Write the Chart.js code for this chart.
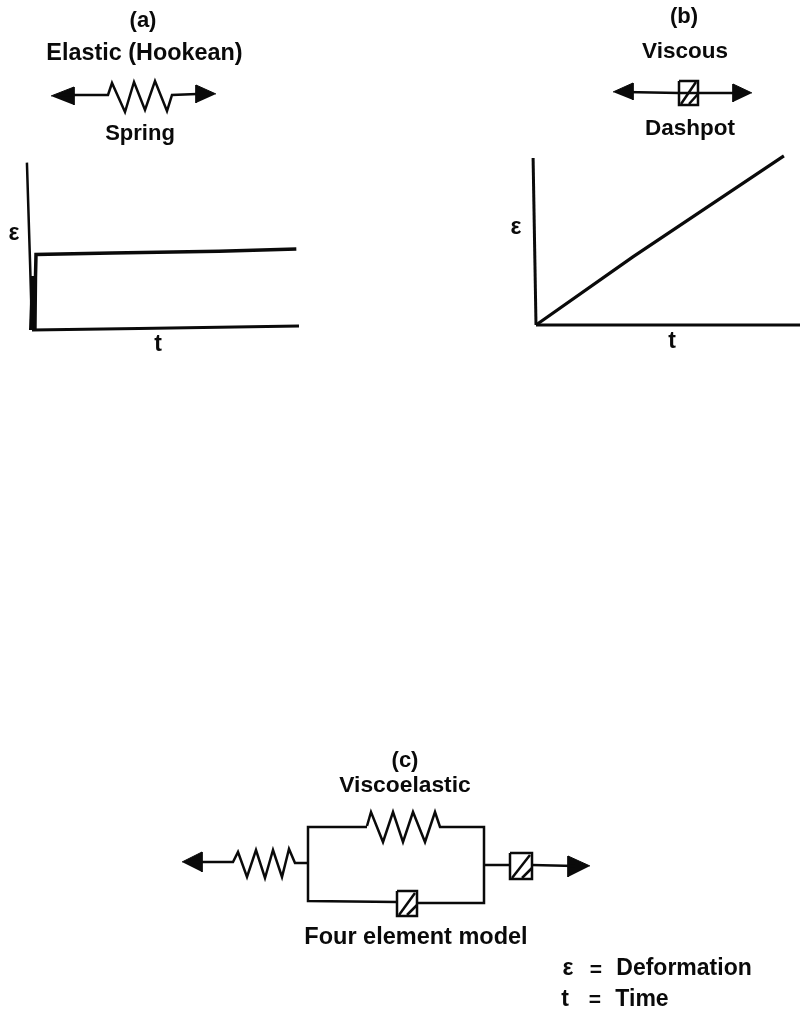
<!DOCTYPE html>
<html>
<head>
<meta charset="utf-8">
<script src="https://cdn.jsdelivr.net/npm/chart.js@4"></script>
<style>
html,body{margin:0;padding:0;background:#fff;width:800px;height:1025px;overflow:hidden}
canvas{position:absolute;display:block}
</style>
</head>
<body>
<canvas id="plotA" style="left:0;top:140px"></canvas>
<canvas id="plotB" style="left:500px;top:140px"></canvas>
<canvas id="diagram" style="left:0;top:0"></canvas>
<script>
// Plot (a): elastic response, t and strain on arbitrary 0-10 units
const elasticStrain = [[0.11,0],[0.13,2.9],[0.15,4.2],[3,4.28],[7,4.38],[9.9,4.5]];
const elasticRise   = [[0.0,0],[0.07,3.0]];
const elasticAxisY  = [[-0.19,9.3],[-0.07,3.6],[0,0]];
const elasticAxisX  = [[0,0],[4,0.08],[10,0.22]];
// Plot (b): viscous response
const viscousStrain = [[0,0],[3.67,3.89],[9.39,9.66]];
const viscousAxisY  = [[-0.11,9.54],[0,0]];
const viscousAxisX  = [[0,0],[10,0]];

// Mechanical schematics, in page units
const springA   = [[57,95],[108,95],[112,83],[125,112],[134,82],[145,110],[155,81],[167,111],[172,95],[197,94]];
const arrowAL   = [[51,96],[74,87],[74,105]];
const arrowAR   = [[216,94],[196,85],[196,103]];
const dashLineB = [[625,92],[679,93],[698,93],[740,93]];
const dashBoxB  = [[679,81],[698,81],[698,105],[679,105],[679,81]];
const dashDiagB1 = [[681,104],[696,82]];
const dashDiagB2 = [[689,104],[698,94]];
const arrowBL   = [[613,92],[633,83],[633,100]];
const arrowBR   = [[752,93],[733,84],[733,102]];
const springC1  = [[190,862],[233,862],[238,852],[247,877],[256,850],[265,878],[273,850],[282,877],[289,849],[295,863],[308,863]];
const arrowCL   = [[182,862],[202,852],[202,872]];
const frameTop  = [[367,827],[308,827],[308,901],[397,902]];
const springC2  = [[367,826],[371,812],[383,842],[393,812],[403,842],[413,812],[425,842],[435,812],[440,827],[484,827],[484,903],[417,903]];
const dashLineC1 = [[484,865],[510,865]];
const dashBoxC1 = [[510,853],[532,853],[532,879],[510,879],[510,853]];
const dashDiagC1a = [[512,878],[530,855]];
const dashDiagC1b = [[522,878],[532,868]];
const dashLineC2 = [[532,865],[575,866]];
const arrowCR   = [[590,866],[568,856],[568,877]];
const dashBoxC2 = [[397,891],[417,891],[417,916],[397,916],[397,891]];
const dashDiagC2a = [[399,915],[415,893]];
const dashDiagC2b = [[407,915],[417,905]];

const lines = [springA,dashLineB,dashBoxB,dashDiagB1,dashDiagB2,springC1,frameTop,springC2,
  dashLineC1,dashBoxC1,dashDiagC1a,dashDiagC1b,dashLineC2,dashBoxC2,dashDiagC2a,dashDiagC2b];
const arrows = [arrowAL,arrowAR,arrowBL,arrowBR,arrowCL,arrowCR];

// Text labels: text, x, y, size
const labels = [
  ['(a)',143,21,22],['Elastic (Hookean)',144.5,54,23.4],['Spring',140,134,22],
  ['ε',14,234,23],['t',158,345,23],
  ['(b)',684,17,22],['Viscous',685,52,22.5],['Dashpot',690,129,22.5],
  ['ε',516,228,23],['t',672,342,23],
  ['(c)',405,761,22],['Viscoelastic',405,786,22.8],['Four element model',416,938,23.5],
  ['ε',568,969,23],['=',596,970,21],['Deformation',684,969,23],
  ['t',565,1000,23],['=',595,1000,21],['Time',642,1000,23]
];

const INK = '#0a0a0a';
const pts = a => a.map(([x,y]) => ({x,y}));
const line = (a,w) => ({data:pts(a),borderColor:INK,borderWidth:w,pointRadius:0,showLine:true,clip:false,tension:0,borderJoinStyle:'miter'});
const baseOptions = (xMin,xMax,yMin,yMax,padding,reverseY) => ({
  responsive:false,animation:false,events:[],
  layout:{padding},
  plugins:{legend:{display:false},tooltip:{enabled:false},title:{display:false}},
  scales:{
    x:{type:'linear',display:false,min:xMin,max:xMax},
    y:{type:'linear',display:false,min:yMin,max:yMax,reverse:!!reverseY}
  }
});
function makeChart(id,w,h,datasets,options,plugins){
  const c = document.getElementById(id);
  c.width = w; c.height = h; c.style.width = w+'px'; c.style.height = h+'px';
  return new Chart(c,{type:'scatter',data:{datasets},options,plugins:plugins||[]});
}

makeChart('plotA',320,210,[
  line(elasticAxisY,2.5),line(elasticAxisX,3),line(elasticStrain,3.5),line(elasticRise,6)
],baseOptions(-1,10,0,10,{left:5.3,right:21,top:10,bottom:20}));

makeChart('plotB',300,210,[
  line(viscousAxisY,3),line(viscousAxisX,3),line(viscousStrain,3.2)
],baseOptions(-1,10,0,10,{left:9.6,right:0,top:10,bottom:25}));

const textPlugin = {
  id:'pageText',
  afterDatasetsDraw(chart){
    const {ctx,scales:{x,y}} = chart;
    ctx.save();
    ctx.fillStyle = INK;
    ctx.textAlign = 'center';
    ctx.textBaseline = 'middle';
    labels.forEach(([t,lx,ly,s]) => {
      ctx.font = 'bold '+s+'px "Liberation Sans", Arial, sans-serif';
      ctx.fillText(t,x.getPixelForValue(lx),y.getPixelForValue(ly));
    });
    ctx.restore();
  }
};

makeChart('diagram',800,1025,[
  ...lines.map(a => line(a,2.5)),
  ...arrows.map(a => ({...line(a,1),fill:'shape',backgroundColor:INK}))
],baseOptions(0,800,0,1025,0,true),[textPlugin]);
</script>
</body>
</html>
